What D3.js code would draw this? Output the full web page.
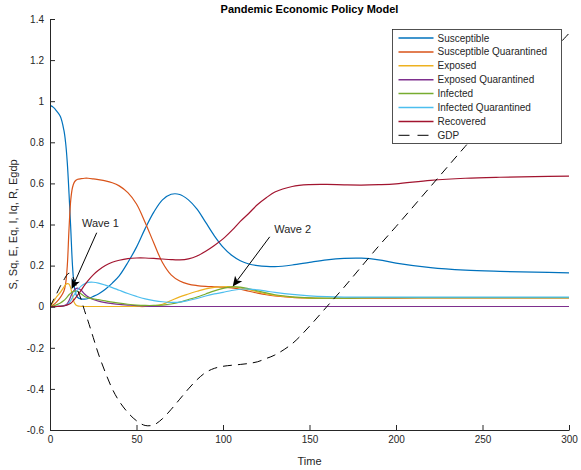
<!DOCTYPE html>
<html>
<head>
<meta charset="utf-8">
<script src="https://cdn.jsdelivr.net/npm/d3@7"></script>
<style>
  html, body { margin: 0; padding: 0; background: #fff; }
  svg { display: block; font-family: "Liberation Sans", Arial, Helvetica, sans-serif; }
</style>
</head>
<body>
<svg id="chart" width="581" height="470"></svg>
<script>
// ---- data ----
const time = [0,2,4,6,8,9,10,11,12,13,14,15,16,18,20,22,25,28,32,36,40,45,50,55,60,65,70,75,80,85,90,95,100,105,110,115,120,125,130,140,150,160,170,180,190,200,220,240,260,280,300];

const susceptible = [0.98,0.97,0.95,0.925,0.86,0.80,0.70,0.55,0.38,0.20,0.10,0.06,0.045,0.038,0.037,0.04,0.05,0.062,0.085,0.115,0.15,0.215,0.29,0.38,0.46,0.52,0.547,0.546,0.52,0.475,0.41,0.345,0.29,0.25,0.224,0.208,0.2,0.196,0.195,0.203,0.216,0.228,0.235,0.236,0.228,0.212,0.19,0.178,0.172,0.168,0.165];

const susceptibleQ = [0,0.01,0.025,0.045,0.075,0.11,0.2,0.38,0.52,0.58,0.605,0.615,0.62,0.623,0.625,0.625,0.622,0.618,0.612,0.603,0.588,0.555,0.5,0.41,0.31,0.215,0.155,0.125,0.11,0.103,0.099,0.097,0.095,0.092,0.085,0.075,0.066,0.058,0.052,0.045,0.042,0.04,0.04,0.041,0.042,0.042,0.043,0.043,0.043,0.043,0.043];

const exposed = [0,0.025,0.05,0.07,0.095,0.107,0.112,0.11,0.09,0.05,0.02,0.008,0.004,0.002,0.001,0.001,0.001,0.001,0.001,0.001,0.001,0.001,0.001,0.001,0.004,0.012,0.03,0.048,0.062,0.075,0.087,0.094,0.097,0.097,0.092,0.083,0.072,0.062,0.055,0.046,0.042,0.041,0.042,0.043,0.044,0.044,0.044,0.044,0.044,0.044,0.044];

const exposedQ = [0,0.001,0.002,0.003,0.005,0.008,0.015,0.03,0.05,0.068,0.08,0.088,0.09,0.08,0.062,0.048,0.035,0.027,0.02,0.015,0.011,0.008,0.005,0.003,0.002,0.002,0.001,0.001,0.001,0.001,0.001,0.001,0.001,0.001,0.001,0.001,0.001,0.001,0.001,0.001,0.001,0.001,0.001,0.001,0.001,0.001,0.001,0.001,0.001,0.001,0.001];

const infected = [0,0.004,0.01,0.018,0.03,0.038,0.048,0.058,0.066,0.072,0.076,0.077,0.074,0.062,0.05,0.043,0.038,0.034,0.028,0.022,0.017,0.012,0.008,0.006,0.006,0.008,0.013,0.022,0.035,0.047,0.062,0.077,0.089,0.096,0.095,0.087,0.077,0.067,0.058,0.048,0.043,0.042,0.042,0.043,0.044,0.044,0.044,0.044,0.044,0.044,0.044];

const infectedQ = [0,0,0.001,0.002,0.004,0.006,0.01,0.018,0.03,0.045,0.058,0.07,0.082,0.1,0.112,0.118,0.119,0.115,0.105,0.093,0.08,0.064,0.05,0.038,0.03,0.024,0.021,0.022,0.03,0.04,0.052,0.062,0.07,0.079,0.085,0.086,0.082,0.076,0.07,0.06,0.053,0.049,0.047,0.047,0.047,0.047,0.047,0.047,0.047,0.047,0.047];

const recovered = [0,0,0.001,0.002,0.004,0.006,0.009,0.012,0.017,0.025,0.035,0.045,0.057,0.08,0.105,0.127,0.155,0.177,0.2,0.216,0.226,0.234,0.237,0.237,0.235,0.232,0.229,0.228,0.233,0.247,0.27,0.298,0.33,0.37,0.415,0.455,0.497,0.53,0.558,0.585,0.594,0.595,0.593,0.592,0.594,0.598,0.615,0.625,0.63,0.633,0.635];

const gdp = [0,0.033,0.066,0.1,0.13,0.145,0.157,0.163,0.162,0.15,0.13,0.105,0.08,0.035,-0.02,-0.07,-0.15,-0.23,-0.32,-0.4,-0.46,-0.515,-0.555,-0.578,-0.575,-0.545,-0.5,-0.45,-0.4,-0.355,-0.32,-0.3,-0.29,-0.285,-0.281,-0.276,-0.268,-0.252,-0.235,-0.18,-0.095,0.0,0.095,0.195,0.295,0.39,0.585,0.78,0.97,1.15,1.33];

const seriesNames = ["Susceptible","Susceptible Quarantined","Exposed","Exposed Quarantined","Infected","Infected Quarantined","Recovered","GDP"];
const seriesColors = ["#0072BD","#D95319","#EDB120","#7E2F8E","#77AC30","#4DBEEE","#A2142F","#000000"];
const seriesValues = [susceptible, susceptibleQ, exposed, exposedQ, infected, infectedQ, recovered, gdp];

const xTicks = [0,50,100,150,200,250,300];
const yTicks = [-0.6,-0.4,-0.2,0,0.2,0.4,0.6,0.8,1,1.2,1.4];

const annotationLabels = ["Wave 1","Wave 2"];
const annotationText = [[18.5,0.405],[129.6,0.376]];
const annotationTail = [[27,0.36],[127,0.34]];
const annotationHead = [[12.5,0.086],[105.6,0.098]];

// ---- chart ----
const svg = d3.select("#chart");
const W = 581, H = 470;
const margin = {left: 50, right: 12, top: 19, bottom: 40};
const x = d3.scaleLinear().domain([0,300]).range([margin.left, W - margin.right]);
const y = d3.scaleLinear().domain([-0.6,1.4]).range([H - margin.bottom, margin.top]);
const ink = "#262626";

svg.append("defs").append("clipPath").attr("id","clip")
  .append("rect").attr("x", x(0)).attr("y", y(1.4)).attr("width", x(300)-x(0)).attr("height", y(-0.6)-y(1.4));

const line = d3.line().x((d,i) => x(time[i])).y(d => y(d)).curve(d3.curveCatmullRom.alpha(0.5));

const lines = svg.append("g").attr("clip-path","url(#clip)");
seriesValues.forEach((vals, k) => {
  lines.append("path")
    .attr("d", line(vals))
    .attr("fill","none")
    .attr("stroke", seriesColors[k])
    .attr("stroke-width", k === 7 ? 1 : 1.2)
    .attr("stroke-dasharray", k === 7 ? "9,6" : null)
    .attr("stroke-linejoin","round");
});

const fmt = d => String(+d.toFixed(1));

const gx = svg.append("g").attr("transform", `translate(0,${y(-0.6)})`)
  .call(d3.axisBottom(x).tickValues(xTicks).tickFormat(fmt).tickSizeInner(-5).tickSizeOuter(0).tickPadding(6));
const gy = svg.append("g").attr("transform", `translate(${x(0)},0)`)
  .call(d3.axisLeft(y).tickValues(yTicks).tickFormat(fmt).tickSizeInner(-5).tickSizeOuter(0).tickPadding(6));
[gx, gy].forEach(g => {
  g.selectAll("path.domain").attr("stroke", ink).attr("stroke-width", 1);
  g.selectAll(".tick line").attr("stroke", ink).attr("stroke-width", 1);
  g.selectAll(".tick text").attr("fill", ink).attr("font-size", 10).attr("font-family", "Liberation Sans, Arial, sans-serif");
});

// annotations
const ann = svg.append("g");
annotationLabels.forEach((lab, i) => {
  const tx = x(annotationTail[i][0]), ty = y(annotationTail[i][1]);
  const hx = x(annotationHead[i][0]), hy = y(annotationHead[i][1]);
  const dx = hx - tx, dy = hy - ty, len = Math.hypot(dx, dy);
  const ux = dx/len, uy = dy/len, px = -uy, py = ux;
  const hl = 10, hw = 4.5, notch = 7.5;
  ann.append("line").attr("x1", tx).attr("y1", ty)
    .attr("x2", hx - ux*notch).attr("y2", hy - uy*notch)
    .attr("stroke","#000").attr("stroke-width",1);
  const pts = [
    [hx, hy],
    [hx - ux*hl + px*hw, hy - uy*hl + py*hw],
    [hx - ux*notch, hy - uy*notch],
    [hx - ux*hl - px*hw, hy - uy*hl - py*hw]
  ];
  ann.append("path").attr("d", "M" + pts.map(p => p.join(",")).join("L") + "Z").attr("fill","#000");
  ann.append("text").attr("x", x(annotationText[i][0])).attr("y", y(annotationText[i][1]))
    .attr("dy","0.35em").attr("font-size", 11).attr("fill", ink).text(lab);
});

// title and labels
svg.append("text").attr("x", (x(0)+x(300))/2).attr("y", 13).attr("text-anchor","middle")
  .attr("font-size", 11).attr("font-weight","bold").attr("fill","#000").text("Pandemic Economic Policy Model");
svg.append("text").attr("x", (x(0)+x(300))/2).attr("y", 465).attr("text-anchor","middle")
  .attr("font-size", 11).attr("fill", ink).text("Time");
svg.append("text").attr("transform", `translate(17,${(y(-0.6)+y(1.4))/2}) rotate(-90)`).attr("text-anchor","middle")
  .attr("font-size", 11).attr("fill", ink).text("S, Sq, E, Eq, I, Iq, R, Egdp");

// legend
const lg = svg.append("g");
const lx = 392.5, ly = 29.5, lw = 169, lh = 114, rowH = 13.9;
lg.append("rect").attr("x", lx).attr("y", ly).attr("width", lw).attr("height", lh)
  .attr("fill","#fff").attr("stroke", ink).attr("stroke-width", 0.8);
seriesNames.forEach((name, k) => {
  const cy = ly + 8.5 + k*rowH;
  lg.append("line").attr("x1", lx + 6).attr("x2", lx + 41).attr("y1", cy).attr("y2", cy)
    .attr("stroke", seriesColors[k]).attr("stroke-width", k === 7 ? 1 : 1.5)
    .attr("stroke-dasharray", k === 7 ? "11,8" : null);
  lg.append("text").attr("x", lx + 45).attr("y", cy).attr("dy","0.35em")
    .attr("font-size", 10).attr("fill", ink).text(name);
});
</script>
</body>
</html>
